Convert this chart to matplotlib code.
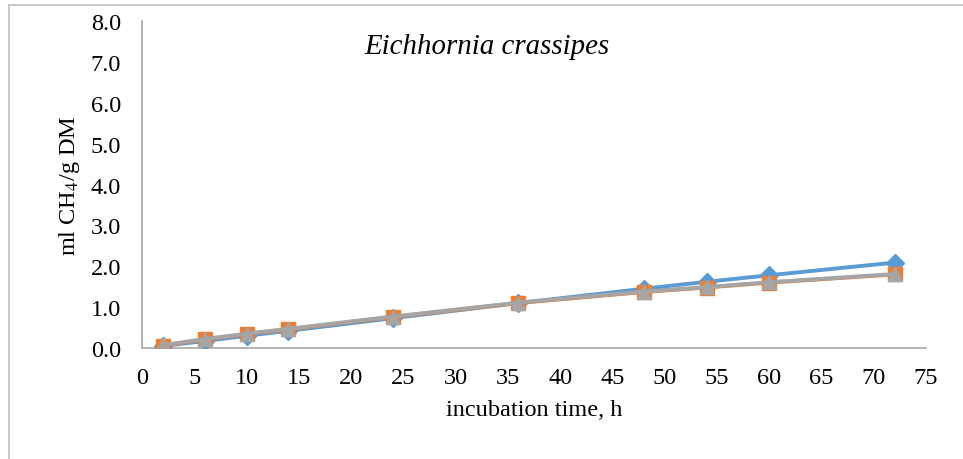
import matplotlib
matplotlib.use("Agg")
import matplotlib.pyplot as plt
from matplotlib.lines import Line2D

# temps d'incubation (h) et production de méthane (ml CH4 / g DM)
temps = [2, 6, 10, 14, 24, 36, 48, 54, 60, 72]
serie_1 = [0.05, 0.17, 0.30, 0.42, 0.73, 1.10, 1.45, 1.62, 1.78, 2.09]
serie_2 = [0.06, 0.21, 0.34, 0.46, 0.76, 1.10, 1.37, 1.48, 1.60, 1.80]
serie_3 = [0.07, 0.22, 0.35, 0.47, 0.77, 1.11, 1.38, 1.49, 1.61, 1.81]

x_ticks = list(range(0, 80, 5))
y_ticks = [0, 1, 2, 3, 4, 5, 6, 7, 8]

plt.rcParams['font.family'] = ['Liberation Serif', 'DejaVu Serif']
plt.rcParams['mathtext.fontset'] = 'stix'

fig = plt.figure(figsize=(9.63, 4.6), dpi=100)
ax = fig.add_axes([0.1475, 0.2413, 0.8141, 0.7107])

ax.plot(temps, serie_1, color="#5B9BD5", lw=2.8, marker="D", ms=9, zorder=3)
ax.plot(temps, serie_2, color="#ED7D31", lw=2.8, marker="s", ms=10, zorder=4)
ax.plot(temps, serie_3, color="#A5A5A5", lw=2.8, marker="^", ms=10, zorder=5)

ax.set_xlim(0, 75)
ax.set_ylim(0, 8)
ax.set_xticks(x_ticks)
ax.set_yticks(y_ticks)
ax.set_yticklabels([f"{v:.1f}" for v in y_ticks])
ax.tick_params(length=0, labelsize=17.5)
ax.tick_params(axis="y", pad=15)
ax.tick_params(axis="x", pad=14)

for cote in ["top", "right"]:
    ax.spines[cote].set_visible(False)
for cote in ["left", "bottom"]:
    ax.spines[cote].set_color("#A6A6A6")
    ax.spines[cote].set_linewidth(1.2)

ax.set_xlabel("incubation time, h", fontsize=17.5)
ax.set_ylabel("ml CH$_4$/g DM", fontsize=17.5)
ax.xaxis.set_label_coords(0.5, -0.156)
ax.yaxis.set_label_coords(-0.077, 0.5)
ax.text(0.44, 0.925, "Eichhornia crassipes", transform=ax.transAxes,
        fontsize=20.8, style="italic", ha="center", va="center")

# cadre du graphique (haut et gauche)
fig.add_artist(Line2D([9/963, 1], [1 - 6/460, 1 - 6/460], color="#BFBFBF", lw=1.2))
fig.add_artist(Line2D([9/963, 9/963], [0, 1 - 6/460], color="#BFBFBF", lw=1.2))

fig.savefig("out.png", dpi=100)
